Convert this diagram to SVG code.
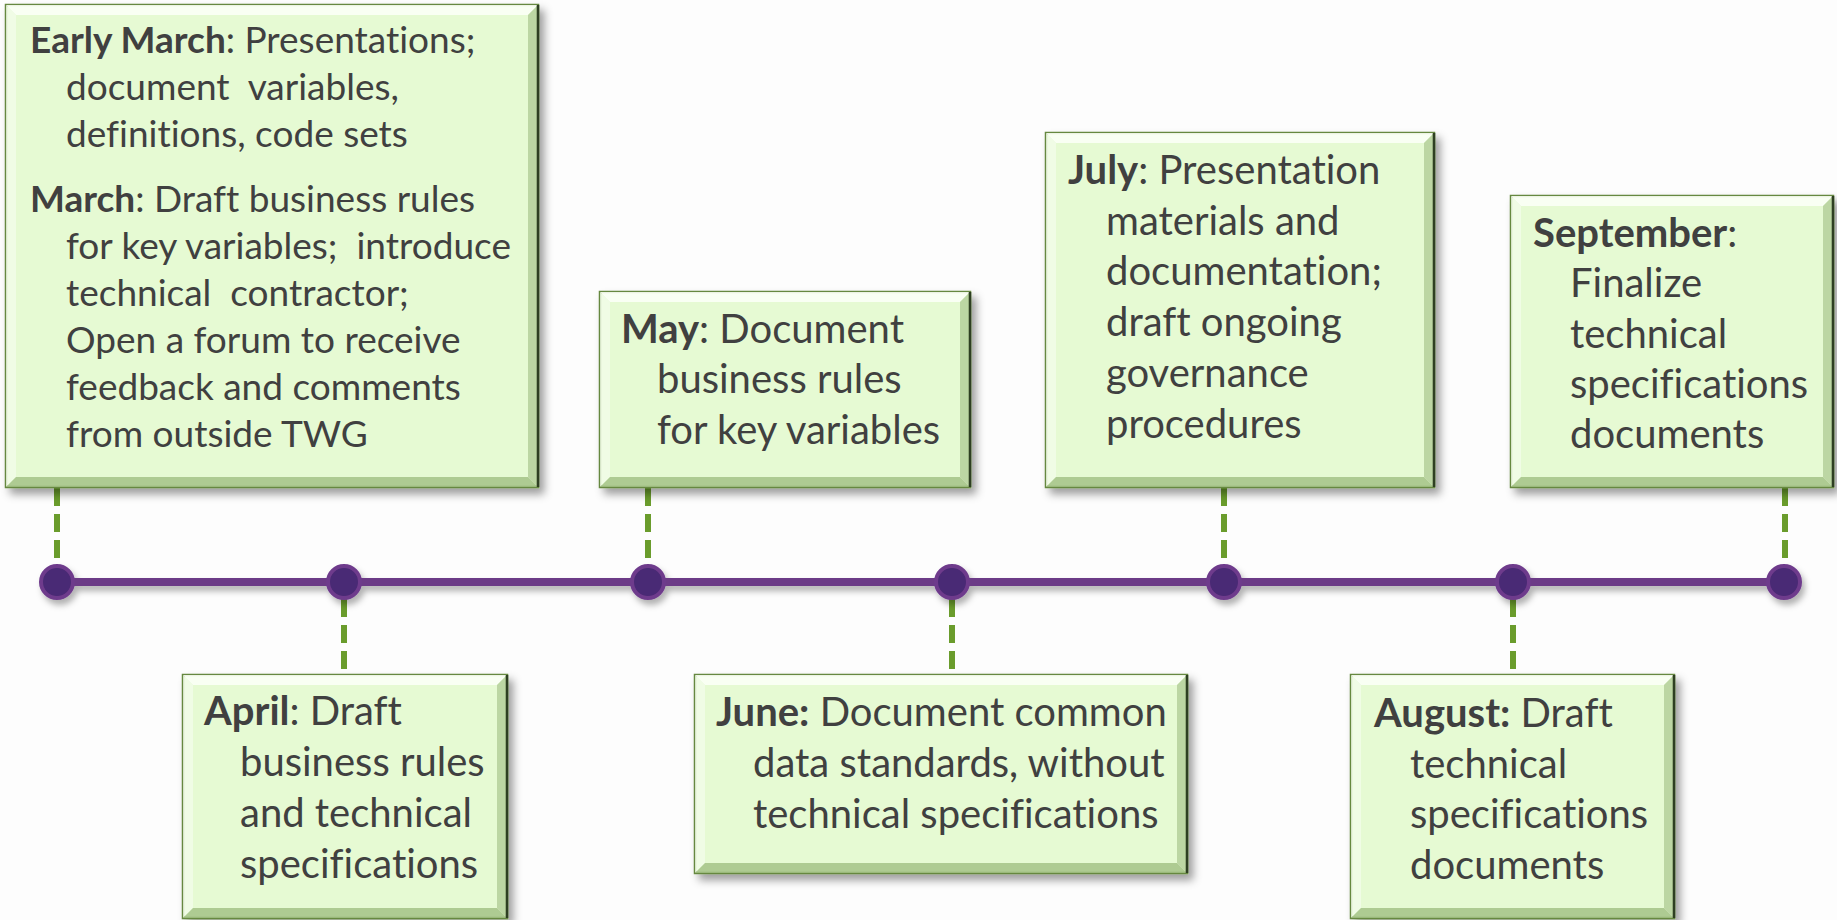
<svg xmlns="http://www.w3.org/2000/svg" width="1837" height="920" viewBox="0 0 1837 920">
<defs>
<filter id="sh" x="-10%" y="-10%" width="125%" height="130%">
<feDropShadow dx="5" dy="6" stdDeviation="4" flood-color="#000" flood-opacity="0.38"/>
</filter>
<filter id="lsh" x="-5%" y="-100%" width="110%" height="400%">
<feDropShadow dx="3" dy="5" stdDeviation="3" flood-color="#000" flood-opacity="0.3"/>
</filter>
<style>
.box{fill:#e6fad3;stroke:#66883f;stroke-width:2.5}
.bt{fill:#fbfff6;opacity:0.9}
.bl{fill:#f3fdea;opacity:0.8}
.bb{fill:#a3c286;opacity:0.85}
.br{fill:#b2cd97;opacity:0.8}
.edge{fill:none;stroke:#2e3f22;stroke-width:2.5}
text{white-space:pre;font-variant-ligatures:none;font-feature-settings:"liga" 0,"clig" 0,"dlig" 0}
.t{font-family:Lato,"Liberation Sans",sans-serif;font-size:40px;fill:#404040}
.ts{font-family:Lato,"Liberation Sans",sans-serif;font-size:37px;fill:#404040}
.b{font-weight:bold}
.dash{stroke:#6a9c2c;stroke-width:6;stroke-dasharray:18 8;fill:none}
.tl{stroke:#6c3a87;stroke-width:8;fill:none}
.dot{fill:#4a2a74;stroke:#6e3b8c;stroke-width:4}
</style>
</defs>
<rect x="0" y="0" width="1837" height="920" fill="#fdfdfd"/>

<g id="connectors">
<line class="dash" x1="57" y1="488" x2="57" y2="565"/>
<line class="dash" x1="648" y1="488" x2="648" y2="565"/>
<line class="dash" x1="1224" y1="488" x2="1224" y2="565"/>
<line class="dash" x1="1785" y1="488" x2="1785" y2="565"/>
<line class="dash" x1="344" y1="599" x2="344" y2="675"/>
<line class="dash" x1="952" y1="599" x2="952" y2="675"/>
<line class="dash" x1="1513" y1="599" x2="1513" y2="675"/>
</g>

<g id="timeline" filter="url(#lsh)">
<line class="tl" x1="57" y1="582" x2="1784" y2="582"/>
<circle class="dot" cx="57" cy="582" r="16"/>
<circle class="dot" cx="344" cy="582" r="16"/>
<circle class="dot" cx="648" cy="582" r="16"/>
<circle class="dot" cx="952" cy="582" r="16"/>
<circle class="dot" cx="1224" cy="582" r="16"/>
<circle class="dot" cx="1513" cy="582" r="16"/>
<circle class="dot" cx="1784" cy="582" r="16"/>
</g>

<g id="early-march">
<rect class="box" x="6" y="5" width="532" height="482" filter="url(#sh)"/>
<polygon class="bt" points="6,5 538,5 528,15 16,15"/>
<polygon class="bl" points="6,5 16,15 16,477 6,487"/>
<polygon class="bb" points="6,487 16,477 528,477 538,487"/>
<polygon class="br" points="538,5 528,15 528,477 538,487"/>
<polyline class="edge" points="538,5 538,487"/>
<text class="ts" x="30" y="53"><tspan class="b">Early March</tspan>: Presentations;</text>
<text class="ts" x="66" y="100">document  variables,</text>
<text class="ts" x="66" y="147">definitions, code sets</text>
<text class="ts" x="30" y="212"><tspan class="b">March</tspan>: Draft business rules</text>
<text class="ts" x="66" y="259">for key variables;  introduce</text>
<text class="ts" x="66" y="306">technical  contractor;</text>
<text class="ts" x="66" y="353">Open a forum to receive</text>
<text class="ts" x="66" y="400">feedback and comments</text>
<text class="ts" x="66" y="447">from outside TWG</text>
</g>

<g id="may">
<rect class="box" x="600" y="292" width="370" height="195" filter="url(#sh)"/>
<polygon class="bt" points="600,292 970,292 960,302 610,302"/>
<polygon class="bl" points="600,292 610,302 610,477 600,487"/>
<polygon class="bb" points="600,487 610,477 960,477 970,487"/>
<polygon class="br" points="970,292 960,302 960,477 970,487"/>
<polyline class="edge" points="970,292 970,487"/>
<text class="t" x="621" y="343"><tspan class="b">May</tspan>: Document</text>
<text class="t" x="657" y="393">business rules</text>
<text class="t" x="657" y="444">for key variables</text>
</g>

<g id="july">
<rect class="box" x="1046" y="133" width="388" height="354" filter="url(#sh)"/>
<polygon class="bt" points="1046,133 1434,133 1424,143 1056,143"/>
<polygon class="bl" points="1046,133 1056,143 1056,477 1046,487"/>
<polygon class="bb" points="1046,487 1056,477 1424,477 1434,487"/>
<polygon class="br" points="1434,133 1424,143 1424,477 1434,487"/>
<polyline class="edge" points="1434,133 1434,487"/>
<text class="t" x="1068" y="184"><tspan class="b">July</tspan>: Presentation</text>
<text class="t" x="1106" y="235">materials and</text>
<text class="t" x="1106" y="285">documentation;</text>
<text class="t" x="1106" y="336">draft ongoing</text>
<text class="t" x="1106" y="387">governance</text>
<text class="t" x="1106" y="438">procedures</text>
</g>

<g id="september">
<rect class="box" x="1511" y="196" width="322" height="291" filter="url(#sh)"/>
<polygon class="bt" points="1511,196 1833,196 1823,206 1521,206"/>
<polygon class="bl" points="1511,196 1521,206 1521,477 1511,487"/>
<polygon class="bb" points="1511,487 1521,477 1823,477 1833,487"/>
<polygon class="br" points="1833,196 1823,206 1823,477 1833,487"/>
<polyline class="edge" points="1833,196 1833,487"/>
<text class="t" x="1533" y="247"><tspan class="b">September</tspan>:</text>
<text class="t" x="1570" y="297">Finalize</text>
<text class="t" x="1570" y="348">technical</text>
<text class="t" x="1570" y="398">specifications</text>
<text class="t" x="1570" y="448">documents</text>
</g>

<g id="april">
<rect class="box" x="183" y="675" width="324" height="243" filter="url(#sh)"/>
<polygon class="bt" points="183,675 507,675 497,685 193,685"/>
<polygon class="bl" points="183,675 193,685 193,908 183,918"/>
<polygon class="bb" points="183,918 193,908 497,908 507,918"/>
<polygon class="br" points="507,675 497,685 497,908 507,918"/>
<polyline class="edge" points="507,675 507,918"/>
<text class="t" x="204" y="725"><tspan class="b">April</tspan>: Draft</text>
<text class="t" x="240" y="776">business rules</text>
<text class="t" x="240" y="827">and technical</text>
<text class="t" x="240" y="878">specifications</text>
</g>

<g id="june">
<rect class="box" x="695" y="675" width="492" height="198" filter="url(#sh)"/>
<polygon class="bt" points="695,675 1187,675 1177,685 705,685"/>
<polygon class="bl" points="695,675 705,685 705,863 695,873"/>
<polygon class="bb" points="695,873 705,863 1177,863 1187,873"/>
<polygon class="br" points="1187,675 1177,685 1177,863 1187,873"/>
<polyline class="edge" points="1187,675 1187,873"/>
<text class="t" x="716" y="726"><tspan class="b">June:</tspan> Document common</text>
<text class="t" x="753" y="777">data standards, without</text>
<text class="t" x="753" y="828">technical specifications</text>
</g>

<g id="august">
<rect class="box" x="1351" y="675" width="323" height="243" filter="url(#sh)"/>
<polygon class="bt" points="1351,675 1674,675 1664,685 1361,685"/>
<polygon class="bl" points="1351,675 1361,685 1361,908 1351,918"/>
<polygon class="bb" points="1351,918 1361,908 1664,908 1674,918"/>
<polygon class="br" points="1674,675 1664,685 1664,908 1674,918"/>
<polyline class="edge" points="1674,675 1674,918"/>
<text class="t" x="1374" y="727"><tspan class="b">August:</tspan> Draft</text>
<text class="t" x="1410" y="778">technical</text>
<text class="t" x="1410" y="828">specifications</text>
<text class="t" x="1410" y="879">documents</text>
</g>
</svg>
